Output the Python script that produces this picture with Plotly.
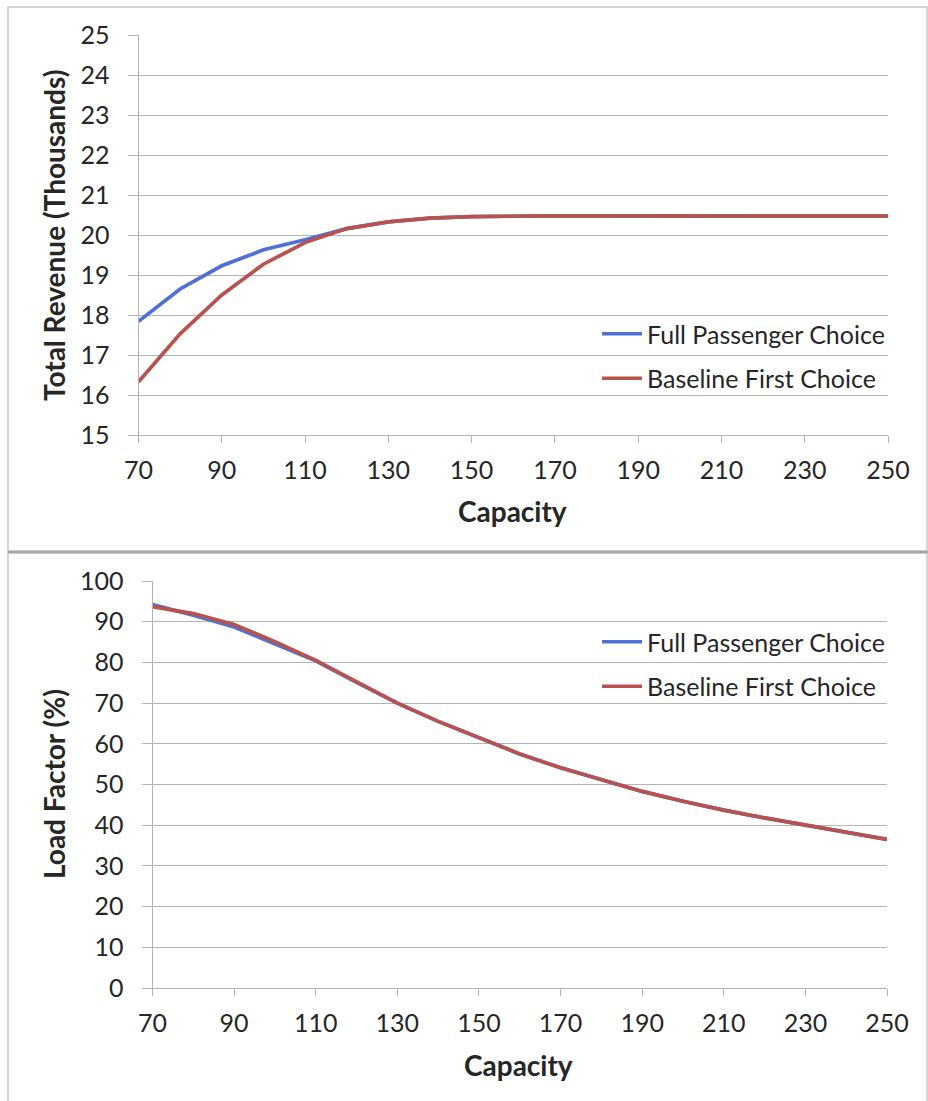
import plotly.graph_objects as go

# ---- data -------------------------------------------------------------
capacity = [70, 80, 90, 100, 110, 120, 130, 140, 150, 160,
            170, 180, 190, 200, 210, 220, 230, 240, 250]

# Total revenue (thousands)
revenue_full = [17.84, 18.65, 19.23, 19.63, 19.88, 20.16, 20.33, 20.42, 20.46, 20.48,
                20.48, 20.48, 20.48, 20.48, 20.47, 20.47, 20.47, 20.47, 20.47]
revenue_base = [16.33, 17.53, 18.50, 19.27, 19.81, 20.16, 20.33, 20.42, 20.46, 20.48,
                20.48, 20.48, 20.48, 20.48, 20.47, 20.47, 20.47, 20.47, 20.47]

# Load factor (%)
load_full = [94.2, 91.6, 88.7, 84.6, 80.4, 75.1, 70.0, 65.5, 61.4, 57.5,
             54.1, 51.1, 48.3, 45.9, 43.7, 41.8, 40.0, 38.2, 36.5]
load_base = [93.7, 92.0, 89.3, 85.1, 80.5, 75.2, 70.0, 65.5, 61.4, 57.5,
             54.1, 51.1, 48.3, 45.9, 43.7, 41.8, 40.0, 38.2, 36.5]

series_names = ["Full Passenger Choice", "Baseline First Choice"]
capacity_ticks = list(range(70, 251, 20))
revenue_ticks = list(range(15, 26, 1))
load_ticks = list(range(0, 101, 10))

# ---- styling ----------------------------------------------------------
W, H = 928, 1101
BLUE = "#5070D6"
RED = "#B8524F"
GRID = "#b4b4b4"
TEXT = "#262626"
FONT = "Lato, 'Open Sans', sans-serif"
TICK_SIZE = 25
TITLE_SIZE = 28


def px(x):
    return x / W


def py(y):
    return 1 - y / H


fig = go.Figure()

# top panel: revenue
fig.add_trace(go.Scatter(x=capacity, y=revenue_full, name=series_names[0], mode="lines",
                         line=dict(color=BLUE, width=3.7), xaxis="x", yaxis="y",
                         legend="legend", legendgroup="a"))
fig.add_trace(go.Scatter(x=capacity, y=revenue_base, name=series_names[1], mode="lines",
                         line=dict(color=RED, width=3.7), xaxis="x", yaxis="y",
                         legend="legend", legendgroup="b"))

# bottom panel: load factor
fig.add_trace(go.Scatter(x=capacity, y=load_full, name=series_names[0], mode="lines",
                         line=dict(color=BLUE, width=3.7), xaxis="x2", yaxis="y2",
                         legend="legend2", legendgroup="c"))
fig.add_trace(go.Scatter(x=capacity, y=load_base, name=series_names[1], mode="lines",
                         line=dict(color=RED, width=3.7), xaxis="x2", yaxis="y2",
                         legend="legend2", legendgroup="d"))

tick_font = dict(family=FONT, size=TICK_SIZE, color=TEXT)
title_font = dict(family=FONT, size=TITLE_SIZE, color=TEXT)


def x_axis(domain, anchor):
    return dict(domain=domain, anchor=anchor, range=[70, 250], tickvals=capacity_ticks,
                showgrid=False, zeroline=False, showline=True, linecolor=GRID, linewidth=1,
                ticks="outside", ticklen=7, tickcolor=GRID, tickfont=tick_font,
                ticklabelstandoff=6)


def y_axis(domain, anchor, rng, vals):
    return dict(domain=domain, anchor=anchor, range=rng, tickvals=vals,
                showgrid=True, gridcolor=GRID, gridwidth=1, zeroline=False,
                showline=True, linecolor=GRID, linewidth=1,
                ticks="outside", ticklen=10, tickcolor=GRID, tickfont=tick_font,
                ticklabelstandoff=13)


legend_common = dict(bgcolor="rgba(0,0,0,0)", borderwidth=0, tracegroupgap=9,
                     font=dict(family=FONT, size=TICK_SIZE, color=TEXT),
                     xanchor="left", yanchor="top", itemwidth=40)


def title_note(text, x, y, angle=0):
    return dict(text=f"<b>{text}</b>", x=px(x), y=py(y), xref="paper", yref="paper",
                xanchor="center", yanchor="middle", textangle=angle,
                showarrow=False, font=title_font)


fig.update_layout(
    width=W, height=H,
    margin=dict(l=0, r=0, t=0, b=0, autoexpand=False),
    paper_bgcolor="white", plot_bgcolor="white",
    showlegend=True,
    xaxis=x_axis([px(138.5), px(888)], "y"),
    yaxis=y_axis([py(435), py(35)], "x", [15, 25], revenue_ticks),
    xaxis2=x_axis([px(152.5), px(887)], "y2"),
    yaxis2=y_axis([py(988), py(581)], "x2", [0, 100], load_ticks),
    legend=dict(x=px(597), y=py(311), **legend_common),
    legend2=dict(x=px(597), y=py(619), **legend_common),
    annotations=[
        title_note("Capacity", 512, 511),
        title_note("Capacity", 518, 1065),
        title_note("Total Revenue (Thousands)", 54, 236, -90),
        title_note("Load Factor (%)", 54, 784, -90),
    ],
    shapes=[
        # white legend backgrounds hide the gridlines behind the keys
        dict(type="rect", xref="paper", yref="paper", x0=px(593), x1=px(888),
             y0=py(428), y1=py(290), fillcolor="white", line=dict(width=0), layer="between"),
        dict(type="rect", xref="paper", yref="paper", x0=px(593), x1=px(887),
             y0=py(722), y1=py(604), fillcolor="white", line=dict(width=0), layer="between"),
        # chart frames
        dict(type="rect", xref="paper", yref="paper", x0=px(8), x1=px(927),
             y0=py(551), y1=py(7), line=dict(color="#c8c8c8", width=1.5),
             fillcolor="rgba(0,0,0,0)", layer="below"),
        dict(type="rect", xref="paper", yref="paper", x0=px(8), x1=px(927),
             y0=py(1115), y1=py(553), line=dict(color="#c8c8c8", width=1.5),
             fillcolor="rgba(0,0,0,0)", layer="below"),
        dict(type="line", xref="paper", yref="paper", x0=px(8), x1=px(928),
             y0=py(552), y1=py(552), line=dict(color="#a8a8a8", width=2.5)),
    ],
)

fig.write_html("out.html")
